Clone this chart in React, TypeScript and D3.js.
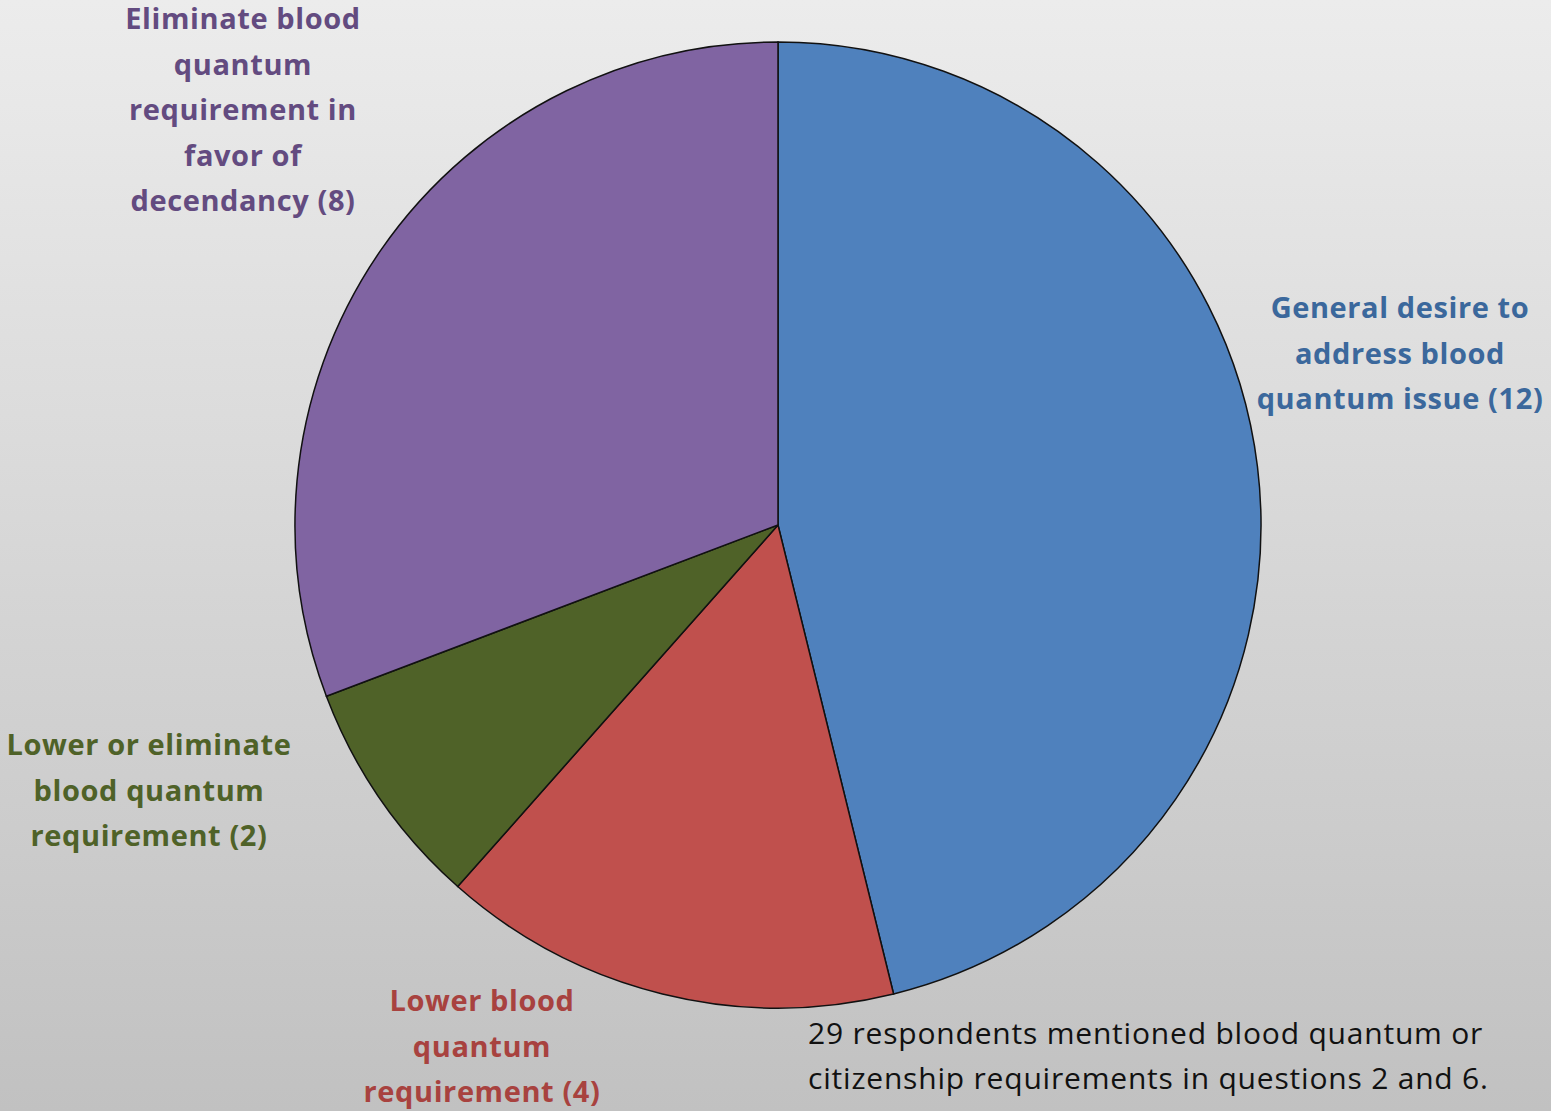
import React, { useEffect, useRef } from "react";
import * as d3 from "d3";

// slice data, clockwise from 12 o'clock
const categories = [
  "General desire to address blood quantum issue",
  "Lower blood quantum requirement",
  "Lower or eliminate blood quantum requirement",
  "Eliminate blood quantum requirement in favor of decendancy",
];
const counts = [12, 4, 2, 8];
const sliceColors = ["#4f81bd", "#c0504d", "#4f6228", "#8064a2"];
const labelColors = ["#3b689c", "#a8423f", "#4f6228", "#634b80"];

// label lines as they are wrapped in the picture
const labelLines = [
  ["General desire to", "address blood", "quantum issue (12)"],
  ["Lower blood", "quantum", "requirement (4)"],
  ["Lower or eliminate", "blood quantum", "requirement (2)"],
  ["Eliminate blood", "quantum", "requirement in", "favor of", "decendancy (8)"],
];
const note = [
  "29 respondents mentioned blood quantum or",
  "citizenship requirements in questions 2 and 6.",
];

const W = 1551;
const H = 1111;

const App: React.FC = () => {
  const ref = useRef<SVGSVGElement | null>(null);

  useEffect(() => {
    document.body.style.margin = "0";
    if (!ref.current) return;
    const svg = d3.select(ref.current);
    svg.selectAll("*").remove();

    const defs = svg.append("defs");
    const grad = defs
      .append("linearGradient")
      .attr("id", "bg")
      .attr("x1", 0)
      .attr("y1", 0)
      .attr("x2", 0)
      .attr("y2", 1);
    grad.append("stop").attr("offset", "0%").attr("stop-color", "#ececec");
    grad.append("stop").attr("offset", "100%").attr("stop-color", "#c1c1c1");

    svg.append("rect").attr("width", W).attr("height", H).attr("fill", "url(#bg)");

    const cx = 778;
    const cy = 525;
    const r = 483;

    const pie = d3
      .pie<number>()
      .sort(null)
      .value((d) => d);
    const arc = d3.arc<d3.PieArcDatum<number>>().innerRadius(0).outerRadius(r);

    const g = svg.append("g").attr("transform", `translate(${cx},${cy})`);
    g.selectAll("path")
      .data(pie(counts))
      .enter()
      .append("path")
      .attr("d", arc)
      .attr("fill", (_, i) => sliceColors[i])
      .attr("stroke", "#111")
      .attr("stroke-width", 1.5)
      .append("title")
      .text((d, i) => `${categories[i]} (${d.data})`);

    // label anchors (centre x, first-line baseline)
    const anchors: [number, number][] = [
      [1400, 318],
      [482, 1011],
      [149, 755],
      [243, 29],
    ];
    const lineH = 45.5;

    labelLines.forEach((lines, i) => {
      const t = svg
        .append("text")
        .attr("x", anchors[i][0])
        .attr("y", anchors[i][1])
        .attr("text-anchor", "middle")
        .attr("fill", labelColors[i])
        .style("font-family", "'Open Sans', Lato, sans-serif")
        .style("font-weight", "bold")
        .style("font-size", "29px")
        .style("letter-spacing", "0.6px");
      lines.forEach((l, j) => {
        t.append("tspan")
          .attr("x", anchors[i][0])
          .attr("y", anchors[i][1] + j * lineH)
          .text(l);
      });
    });

    const nt = svg
      .append("text")
      .attr("fill", "#111")
      .style("font-family", "'Open Sans', Lato, sans-serif")
      .style("font-size", "30px")
      .style("letter-spacing", "0.8px");
    note.forEach((l, j) => {
      nt.append("tspan")
        .attr("x", 808)
        .attr("y", 1044 + j * 45)
        .text(l);
    });
  }, []);

  return <svg ref={ref} width={W} height={H} style={{ display: "block" }} />;
};

export default App;
